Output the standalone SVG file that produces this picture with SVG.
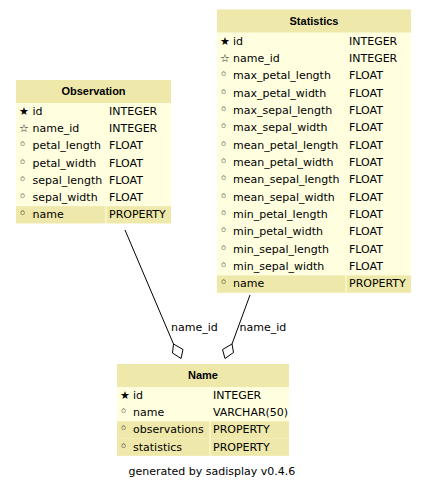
<svg xmlns="http://www.w3.org/2000/svg" width="426" height="489" viewBox="0 0 426 489">
<style>
.bg{fill:#ffffe0}
.hd{fill:#eee8aa}
.t{font-family:"DejaVu Sans",sans-serif;font-size:11px;fill:#000}
.o{font-size:14px}
.h{font-family:"Liberation Sans",Arial,sans-serif;font-size:11px;font-weight:bold;fill:#000;text-anchor:middle}
.edge{stroke:#000;stroke-width:1;fill:none}
.dia{stroke:#000;stroke-width:1;fill:#fff}
</style>
<rect width="426" height="489" fill="#fff"/>
<g id="connectors">
<path class="edge" d="M125,230 L173.5,344"/>
<polygon class="dia" points="173.5,344 183,349.5 181,358.5 172.5,353"/>
<text class="t" x="171" y="331">name_id</text>
<path class="edge" d="M250,295 L232,344"/>
<polygon class="dia" points="232,344 222.5,349.5 225,358.5 233.5,352.5"/>
<text class="t" x="239.5" y="331">name_id</text>
</g>
<g id="Observation">
<rect class="bg" x="16" y="80" width="155" height="143.4"/>
<rect class="hd" x="16" y="80" width="155" height="23"/>
<text class="h" x="93.5" y="94.5">Observation</text>
<rect class="hd" x="16" y="206.2" width="89.5" height="17.2"/>
<rect class="hd" x="106.5" y="206.2" width="64.5" height="17.2"/>
<g class="t">
<text x="19" y="115">★</text><text x="32.5" y="115">id</text><text x="109" y="115">INTEGER</text>
<text x="19" y="132.2">☆</text><text x="32.5" y="132.2">name_id</text><text x="109" y="132.2">INTEGER</text>
<text class="o" x="18.5" y="149.4">◦</text><text x="32.5" y="149.4">petal_length</text><text x="109" y="149.4">FLOAT</text>
<text class="o" x="18.5" y="166.6">◦</text><text x="32.5" y="166.6">petal_width</text><text x="109" y="166.6">FLOAT</text>
<text class="o" x="18.5" y="183.8">◦</text><text x="32.5" y="183.8">sepal_length</text><text x="109" y="183.8">FLOAT</text>
<text class="o" x="18.5" y="201">◦</text><text x="32.5" y="201">sepal_width</text><text x="109" y="201">FLOAT</text>
<text class="o" x="18.5" y="218.2">◦</text><text x="32.5" y="218.2">name</text><text x="109" y="218.2">PROPERTY</text>
</g>
</g>
<g id="Statistics">
<rect class="bg" x="217" y="9.5" width="194" height="283.3"/>
<rect class="hd" x="217" y="9.5" width="194" height="23"/>
<text class="h" x="314" y="24.5">Statistics</text>
<rect class="hd" x="217" y="275.4" width="128.5" height="17.35"/>
<rect class="hd" x="346.5" y="275.4" width="64.5" height="17.35"/>
<g class="t">
<text x="220" y="44.5">★</text><text x="233" y="44.5">id</text><text x="349" y="44.5">INTEGER</text>
<text x="220" y="61.85">☆</text><text x="233" y="61.85">name_id</text><text x="349" y="61.85">INTEGER</text>
<text class="o" x="219.5" y="79.2">◦</text><text x="233" y="79.2">max_petal_length</text><text x="349" y="79.2">FLOAT</text>
<text class="o" x="219.5" y="96.55">◦</text><text x="233" y="96.55">max_petal_width</text><text x="349" y="96.55">FLOAT</text>
<text class="o" x="219.5" y="113.9">◦</text><text x="233" y="113.9">max_sepal_length</text><text x="349" y="113.9">FLOAT</text>
<text class="o" x="219.5" y="131.25">◦</text><text x="233" y="131.25">max_sepal_width</text><text x="349" y="131.25">FLOAT</text>
<text class="o" x="219.5" y="148.6">◦</text><text x="233" y="148.6">mean_petal_length</text><text x="349" y="148.6">FLOAT</text>
<text class="o" x="219.5" y="165.95">◦</text><text x="233" y="165.95">mean_petal_width</text><text x="349" y="165.95">FLOAT</text>
<text class="o" x="219.5" y="183.3">◦</text><text x="233" y="183.3">mean_sepal_length</text><text x="349" y="183.3">FLOAT</text>
<text class="o" x="219.5" y="200.65">◦</text><text x="233" y="200.65">mean_sepal_width</text><text x="349" y="200.65">FLOAT</text>
<text class="o" x="219.5" y="218">◦</text><text x="233" y="218">min_petal_length</text><text x="349" y="218">FLOAT</text>
<text class="o" x="219.5" y="235.35">◦</text><text x="233" y="235.35">min_petal_width</text><text x="349" y="235.35">FLOAT</text>
<text class="o" x="219.5" y="252.7">◦</text><text x="233" y="252.7">min_sepal_length</text><text x="349" y="252.7">FLOAT</text>
<text class="o" x="219.5" y="270.05">◦</text><text x="233" y="270.05">min_sepal_width</text><text x="349" y="270.05">FLOAT</text>
<text class="o" x="219.5" y="287.4">◦</text><text x="233" y="287.4">name</text><text x="349" y="287.4">PROPERTY</text>
</g>
</g>
<g id="Name">
<rect class="bg" x="117" y="364" width="172" height="91.8"/>
<rect class="hd" x="117" y="364" width="172" height="23"/>
<text class="h" x="203" y="379">Name</text>
<rect class="hd" x="117" y="421.4" width="92.5" height="17.2"/>
<rect class="hd" x="210.5" y="421.4" width="78.5" height="17.2"/>
<rect class="hd" x="117" y="438.6" width="92.5" height="17.2"/>
<rect class="hd" x="210.5" y="438.6" width="78.5" height="17.2"/>
<g class="t">
<text x="120" y="399">★</text><text x="133" y="399">id</text><text x="213" y="399">INTEGER</text>
<text class="o" x="119.5" y="416.2">◦</text><text x="133" y="416.2">name</text><text x="213" y="416.2">VARCHAR(50)</text>
<text class="o" x="119.5" y="433.4">◦</text><text x="133" y="433.4">observations</text><text x="213" y="433.4">PROPERTY</text>
<text class="o" x="119.5" y="450.6">◦</text><text x="133" y="450.6">statistics</text><text x="213" y="450.6">PROPERTY</text>
</g>
</g>
<text class="t" x="128.5" y="475">generated by sadisplay v0.4.6</text>
</svg>
